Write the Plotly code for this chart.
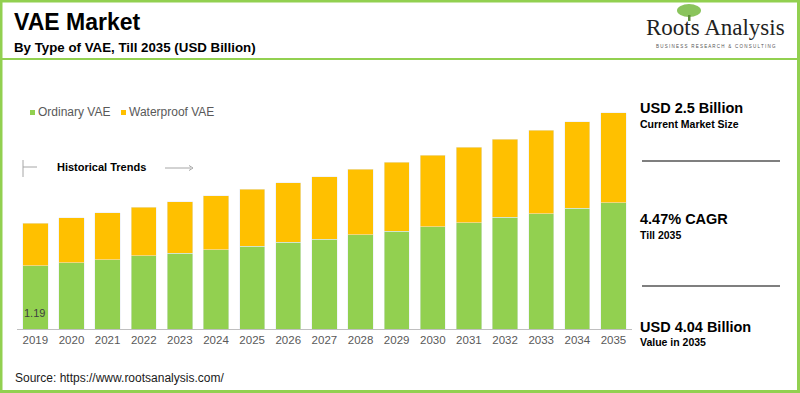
import plotly.graph_objects as go

years = [str(y) for y in range(2019, 2036)]
ordinary_vae = [1.19, 1.24, 1.30, 1.37, 1.42, 1.48, 1.55, 1.62, 1.68, 1.76, 1.83, 1.91, 1.99, 2.09, 2.16, 2.26, 2.36]
waterproof_vae = [0.79, 0.84, 0.87, 0.91, 0.96, 1.01, 1.06, 1.11, 1.17, 1.23, 1.29, 1.34, 1.41, 1.46, 1.55, 1.61, 1.68]

W, H = 800, 393
FONT = "Arial, Liberation Sans, sans-serif"
GREEN = "#92D050"
YELLOW = "#FFC000"


def px(x):
    return x / W


def py(y):
    return 1 - y / H


fig = go.Figure()
fig.add_trace(go.Bar(x=years, y=ordinary_vae, name="Ordinary VAE", marker_color=GREEN))
fig.add_trace(go.Bar(x=years, y=waterproof_vae, name="Waterproof VAE", marker_color=YELLOW))

base_px, top_px = 329.3, 100
scale = 53.6
ymax = (base_px - top_px) / scale

fig.update_layout(
    width=W, height=H,
    margin=dict(l=0, r=0, t=0, b=0),
    paper_bgcolor="white", plot_bgcolor="white",
    barmode="stack", bargap=0.3,
    font=dict(family=FONT, color="#595959"),
    showlegend=False,
    xaxis=dict(domain=[px(17.3), px(631.5)], showgrid=False, showline=True,
               linecolor="#BFBFBF", linewidth=1, ticks="",
               tickfont=dict(size=11.5, color="#595959")),
    yaxis=dict(domain=[py(base_px), py(top_px)], range=[0, ymax], visible=False),
)

ann = []


def text(x, y, t, size, bold=False, color="black", xanchor="left", family=FONT):
    ann.append(dict(xref="paper", yref="paper", x=px(x), y=py(y), text=(f"<b>{t}</b>" if bold else t),
                    showarrow=False, xanchor=xanchor, yanchor="middle",
                    font=dict(size=size, color=color, family=family)))


text(12, 22, "VAE Market", 23, True)
text(12, 48, "By Type of VAE, Till 2035 (USD Billion)", 13.3, True)

# legend
text(36, 112, "Ordinary VAE", 12, False, "#595959")
text(127, 112, "Waterproof VAE", 12, False, "#595959")

text(55, 167, "Historical Trends", 11, True)
text(22, 313, "1.19", 11, False, "#404040")

text(13, 378, "Source: https://www.rootsanalysis.com/", 12, False, "#1a1a1a")

# right panel
text(638, 108, "USD 2.5 Billion", 14.5, True)
text(638, 124, "Current Market Size", 10.5, True)
text(638, 219, "4.47% CAGR", 14.5, True)
text(638, 235, "Till 2035", 10.5, True)
text(638, 327, "USD 4.04 Billion", 14.5, True)
text(638, 342, "Value in 2035", 10.5, True)

# logo
text(715, 28, "Roots Analysis", 23, False, "#222222", "center", "Liberation Serif, Times New Roman, serif")
text(716, 46, "B U S I N E S S   R E S E A R C H   &   C O N S U L T I N G", 4.5, False, "#555555", "center")

fig.update_layout(annotations=ann)

shapes = []


def line(x0, y0, x1, y1, color, width):
    shapes.append(dict(type="line", xref="paper", yref="paper", x0=px(x0), y0=py(y0), x1=px(x1), y1=py(y1),
                       line=dict(color=color, width=width)))


# border
shapes.append(dict(type="rect", xref="paper", yref="paper", x0=px(1), y0=py(391.5), x1=px(798.5), y1=py(1),
                   line=dict(color=GREEN, width=3)))
line(2, 59, 798, 59, GREEN, 2)

# historical trends markers
line(23, 160, 23, 177, "#A6A6A6", 1)
line(23, 167, 37, 167, "#A6A6A6", 1)
line(165, 168, 191, 168, "#A6A6A6", 1)
shapes.append(dict(type="path", xref="paper", yref="paper",
                   path=f"M {px(189)} {py(165.5)} L {px(193)} {py(168)} L {px(189)} {py(170.5)}",
                   line=dict(color="#A6A6A6", width=1)))

# right panel separators
line(642, 161, 780, 161, "#7F7F7F", 2)
line(642, 286, 780, 286, "#7F7F7F", 2)

# legend squares
shapes.append(dict(type="rect", xref="paper", yref="paper", x0=px(30), y0=py(115), x1=px(35), y1=py(110),
                   fillcolor=GREEN, line=dict(width=0)))
shapes.append(dict(type="rect", xref="paper", yref="paper", x0=px(121), y0=py(115), x1=px(126), y1=py(110),
                   fillcolor=YELLOW, line=dict(width=0)))

# logo tree
shapes.append(dict(type="circle", xref="paper", yref="paper", x0=px(677), y0=py(17), x1=px(701), y1=py(4),
                   fillcolor="#7DBE4A", line=dict(width=0), opacity=0.9))
shapes.append(dict(type="rect", xref="paper", yref="paper", x0=px(688), y0=py(21), x1=px(690.5), y1=py(15),
                   fillcolor="#5E8F3A", line=dict(width=0)))

fig.update_layout(shapes=shapes)

fig.write_html("out.html", config={"displayModeBar": False},
               post_script="document.body.style.margin='0';document.body.style.overflow='hidden';")
